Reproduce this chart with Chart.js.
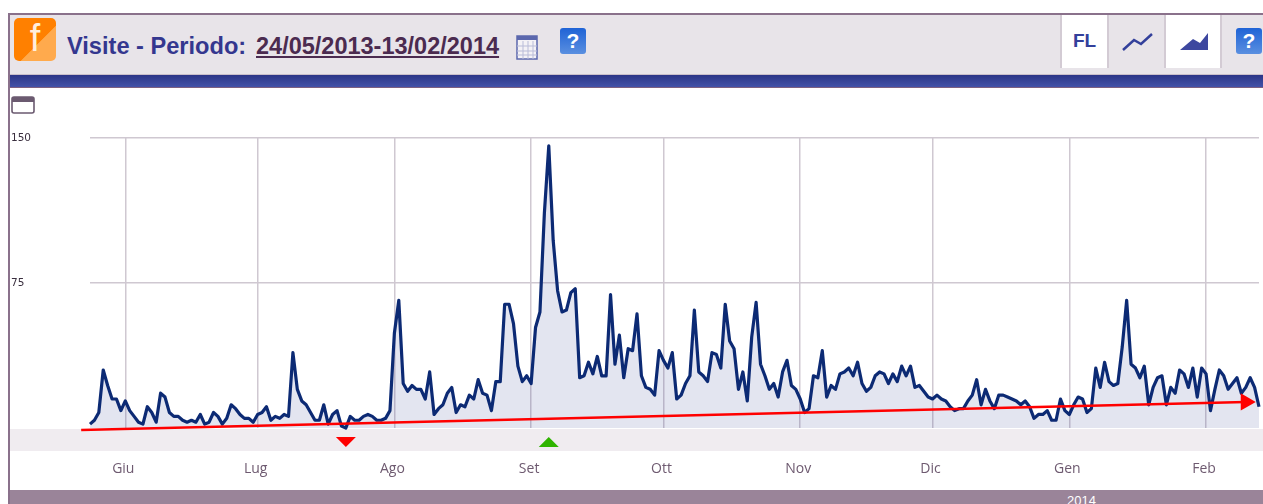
<!DOCTYPE html>
<html>
<head>
<meta charset="utf-8">
<title>Visite</title>
<script src="https://cdn.jsdelivr.net/npm/chart.js@4"></script>
<style>
html, body { margin: 0; padding: 0; width: 1263px; height: 504px; overflow: hidden; background: #fff; font-family: "Liberation Sans", Arial, sans-serif; }
.abs { position: absolute; }
#frame { left: 8px; top: 13px; width: 1255px; height: 491px; border-left: 2px solid #8a718b; border-top: 2px solid #8a718b; box-sizing: border-box; }
#header { left: 10px; top: 15px; width: 1253px; height: 59px; background: #e8e4e9; }
#bar { left: 10px; top: 74px; width: 1253px; height: 14px; background: linear-gradient(#2b3587, #4352a8); border-top: 1px solid #c9bfca; border-bottom: 1px solid #7d5f80; box-sizing: border-box; }
#logo { left: 14px; top: 18px; width: 42px; height: 43px; border-radius: 5px; background: linear-gradient(135deg, #ff8000 58%, #ffaa4d 59%); color: #ffeedd; font-size: 38px; line-height: 41px; text-align: center; }
#title { left: 67px; top: 33px; font-size: 23.6px; font-weight: bold; color: #34378f; white-space: nowrap; }
#period { left: 256px; top: 33px; font-size: 23.5px; font-weight: bold; color: #4b2b50; text-decoration: underline; white-space: nowrap; }
.help { width: 26px; height: 26px; border-radius: 3px; background: linear-gradient(#1f63d6, #5a8fe0); color: #fff; font-size: 21px; font-weight: bold; line-height: 26px; text-align: center; }
.btn { top: 15px; height: 53px; border-right: 2px solid #d3cbd4; box-sizing: border-box; }
#fl { left: 1060px; width: 49px; background: #fff; border-left: 2px solid #d3cbd4; color: #33409b; font-size: 19px; font-weight: bold; text-align: center; line-height: 51px; }
#lineBtn { left: 1109px; width: 57px; }
#areaBtn { left: 1166px; width: 56px; background: #fff; }
#band { left: 10px; top: 429px; width: 1253px; height: 22px; background: #f0ecf0; }
#footer { left: 10px; top: 490px; width: 1253px; height: 14px; background: #9a8499; color: #fff; font-size: 13px; }
#footer span { position: absolute; left: 1057px; top: 3px; }
canvas { position: absolute; left: 0; top: 0; }
</style>
</head>
<body>
<div class="abs" id="header"></div>
<div class="abs" id="bar"></div>
<div class="abs" id="band"></div>
<div class="abs" id="footer"><span>2014</span></div>
<div class="abs" id="frame"></div>
<div class="abs" id="logo">f</div>
<div class="abs" id="title">Visite - Periodo:</div>
<div class="abs" id="period">24/05/2013-13/02/2014</div>
<svg class="abs" style="left:516px;top:33px" width="23" height="28" viewBox="0 0 23 28">
  <rect x="1" y="3" width="20" height="23" fill="#f4f2f6" stroke="#5b67ad" stroke-width="1.5"/>
  <rect x="1" y="3" width="20" height="4" fill="#5b67ad"/>
  <path d="M1 13H21M1 18H21M1 22H21M7 8V26M12 8V26M17 8V26" stroke="#b9bcd8" stroke-width="1"/>
</svg>
<div class="abs help" style="left:560px;top:28px">?</div>
<div class="abs btn" id="fl">FL</div>
<div class="abs btn" id="lineBtn">
  <svg width="57" height="53"><path d="M14 35L25 25L32 29L43 19" fill="none" stroke="#33409b" stroke-width="2.5"/></svg>
</div>
<div class="abs btn" id="areaBtn">
  <svg width="54" height="53"><path d="M14 35L27 24L34 28L42 18V35Z" fill="#3d479f"/></svg>
</div>
<div class="abs help" style="left:1236px;top:28px">?</div>
<svg class="abs" style="left:10px;top:95px" width="27" height="20" viewBox="0 0 27 20">
  <rect x="2" y="2" width="22" height="16" rx="2" fill="#fff" stroke="#6b5a70" stroke-width="1.6"/>
  <rect x="2" y="2" width="22" height="5" fill="#6b5a70"/>
</svg>
<canvas id="visiteChart" width="1263" height="504"></canvas>
<script>
const months = ['Giu', 'Lug', 'Ago', 'Set', 'Ott', 'Nov', 'Dic', 'Gen', 'Feb'];
const monthDays = [8, 38, 69, 100, 130, 161, 191, 222, 253];
const yTicks = [75, 150];
// daily visits from 24/05/2013
const visits = [
  2, 4, 8, 30, 22, 15, 15, 9, 14, 9,
  6, 3, 2, 11, 8, 3, 18, 16, 8, 6,
  6, 4, 3, 4, 3, 7, 2, 3, 8, 6,
  2, 5, 12, 10, 7, 5, 5, 3, 7, 8,
  11, 4, 6, 5, 7, 6, 39, 20, 14, 12,
  8, 4, 4, 12, 2, 7, 9, 1, 0, 6,
  4, 4, 6, 7, 6, 4, 4, 5, 9, 49,
  66, 23, 19, 22, 20, 20, 15, 29, 7, 10,
  12, 18, 21, 8, 12, 11, 17, 15, 25, 18,
  17, 9, 24, 24, 64, 64, 54, 32, 24, 27,
  23, 52, 60, 111, 146, 97, 71, 60, 61, 70,
  72, 26, 27, 34, 28, 37, 27, 27, 69, 33,
  48, 26, 41, 40, 59, 27, 21, 20, 17, 40,
  35, 31, 39, 15, 17, 23, 27, 61, 29, 27,
  24, 39, 38, 31, 64, 45, 41, 20, 29, 14,
  47, 65, 33, 27, 20, 23, 16, 29, 35, 22,
  20, 15, 8, 10, 27, 26, 40, 16, 22, 20,
  28, 29, 31, 27, 34, 23, 19, 21, 27, 29,
  28, 23, 28, 24, 32, 27, 32, 21, 22, 19,
  16, 15, 17, 15, 14, 11, 9, 10, 10, 14,
  17, 25, 12, 20, 14, 10, 17, 17, 16, 15,
  14, 12, 14, 11, 5, 7, 7, 9, 4, 4,
  15, 9, 7, 12, 16, 15, 8, 10, 31, 21,
  34, 24, 22, 23, 42, 66, 33, 31, 26, 32,
  12, 21, 26, 27, 12, 21, 18, 30, 28, 21,
  31, 16, 31, 28, 9, 20, 30, 27, 20, 23,
  26, 18, 21, 26, 21, 11
];
const trendDays = [-2, 262];
const trendValues = [-1, 13.5];

const lowDay = visits.indexOf(Math.min(...visits));
const highDay = visits.indexOf(Math.max(...visits));

// little red/green triangles under the axis, on the lowest and highest day
const extremesPlugin = {
  id: 'extremes',
  afterDatasetsDraw(chart) {
    const { ctx, scales, chartArea } = chart;
    const base = chartArea.bottom;
    const xLow = scales.x.getPixelForValue(lowDay);
    const xHigh = scales.x.getPixelForValue(highDay);
    ctx.save();
    ctx.fillStyle = '#ff0000';
    ctx.beginPath();
    ctx.moveTo(xLow - 10, base + 9);
    ctx.lineTo(xLow + 10, base + 9);
    ctx.lineTo(xLow, base + 19);
    ctx.fill();
    ctx.fillStyle = '#2fb400';
    ctx.beginPath();
    ctx.moveTo(xHigh - 10, base + 19);
    ctx.lineTo(xHigh + 10, base + 19);
    ctx.lineTo(xHigh, base + 9);
    ctx.fill();
    ctx.restore();
  }
};

const ctx = document.getElementById('visiteChart').getContext('2d');
new Chart(ctx, {
  type: 'line',
  plugins: [extremesPlugin],
  data: {
    datasets: [
      {
        label: 'Tendenza',
        data: trendDays.map((d, i) => ({ x: d, y: trendValues[i] })),
        borderColor: '#ff0000',
        backgroundColor: '#ff0000',
        borderWidth: 2.5,
        pointRadius: [0, 10],
        pointStyle: 'triangle',
        pointRotation: 90,
        pointBorderWidth: 0,
        fill: false,
        clip: false
      },
      {
        label: 'Visite',
        data: visits.map((v, i) => ({ x: i, y: v })),
        borderColor: '#0c2a74',
        backgroundColor: 'rgba(58, 74, 150, 0.14)',
        borderWidth: 3.2,
        borderJoinStyle: 'round',
        pointRadius: 0,
        tension: 0,
        fill: 'origin',
        clip: false
      }
    ]
  },
  options: {
    responsive: false,
    animation: false,
    // the arrow head must not shrink the plot
    layout: { autoPadding: false, padding: { left: 11, right: 4, top: 138, bottom: 0 } },
    plugins: { legend: { display: false }, tooltip: { enabled: false } },
    scales: {
      x: {
        type: 'linear',
        min: 0,
        max: 265,
        afterBuildTicks: axis => { axis.ticks = monthDays.map(d => ({ value: d })); },
        afterFit: axis => { axis.height = 76; },
        border: { display: false },
        grid: { color: '#cfc8d1', lineWidth: 1.5, drawTicks: false },
        ticks: {
          autoSkip: false,
          maxRotation: 0,
          padding: 33,
          labelOffset: -2,
          color: '#6e5a70',
          font: { family: 'Open Sans', size: 14 },
          callback: value => months[monthDays.indexOf(value)]
        }
      },
      y: {
        min: 0,
        max: 150,
        afterBuildTicks: axis => { axis.ticks = [0].concat(yTicks).map(v => ({ value: v })); },
        afterFit: axis => { axis.width = 79; },
        border: { display: false },
        grid: {
          drawTicks: false,
          lineWidth: 1.5,
          color: c => (c.tick.value === 0 ? 'rgba(0,0,0,0)' : '#cfc8d1')
        },
        ticks: {
          crossAlign: 'far',
          padding: 0,
          color: '#3a2f3f',
          font: { family: 'DejaVu Sans', size: 10.5 },
          callback: value => (value === 0 ? '' : value)
        }
      }
    }
  }
});
</script>
</body>
</html>
